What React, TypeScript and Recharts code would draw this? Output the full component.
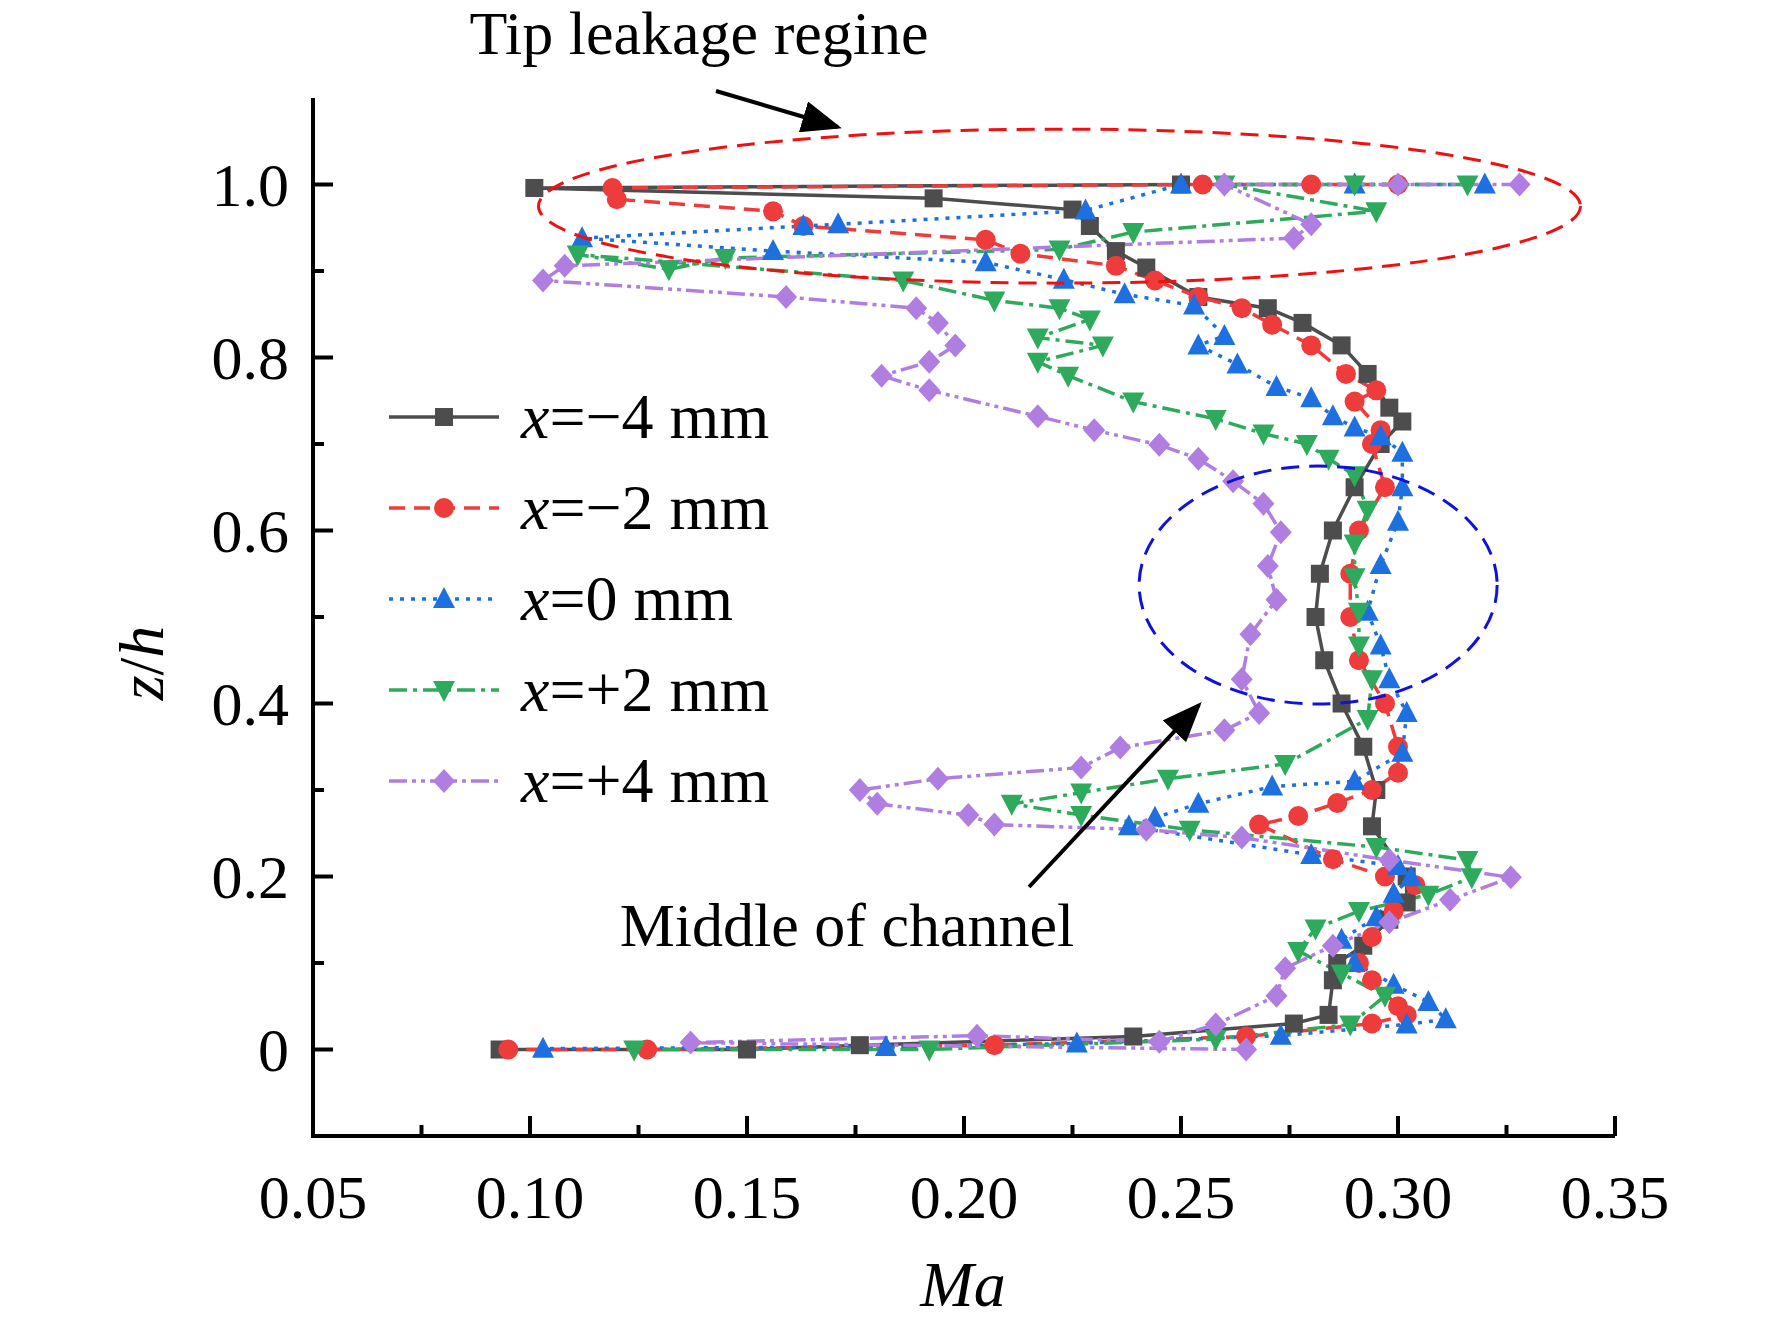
import React from 'react';
import { LineChart, Line, XAxis, YAxis } from 'recharts';

// Ma (x) and z/h (y), ordered along each profile
const maM4 = [0.25, 0.101, 0.193, 0.225, 0.229, 0.235, 0.242, 0.254, 0.27, 0.278, 0.287, 0.293, 0.298, 0.301, 0.296, 0.29, 0.285, 0.282, 0.281, 0.283, 0.287, 0.292, 0.295, 0.294, 0.302, 0.302, 0.298, 0.292, 0.286, 0.285, 0.284, 0.276, 0.239, 0.176, 0.15, 0.093];
const zM4 = [1.0, 0.996, 0.984, 0.971, 0.952, 0.923, 0.904, 0.87, 0.857, 0.84, 0.814, 0.781, 0.742, 0.726, 0.7, 0.65, 0.6, 0.55, 0.5, 0.45, 0.4, 0.35, 0.3, 0.258, 0.2, 0.17, 0.15, 0.12, 0.1, 0.08, 0.04, 0.03, 0.015, 0.005, 0.0, 0.0];

const maM2 = [0.3, 0.28, 0.255, 0.119, 0.12, 0.156, 0.163, 0.205, 0.213, 0.235, 0.244, 0.254, 0.264, 0.271, 0.28, 0.288, 0.295, 0.29, 0.296, 0.294, 0.297, 0.291, 0.289, 0.289, 0.291, 0.297, 0.3, 0.3, 0.294, 0.286, 0.277, 0.268, 0.285, 0.297, 0.304, 0.299, 0.294, 0.291, 0.294, 0.3, 0.302, 0.294, 0.265, 0.207, 0.127, 0.095];
const zM2 = [1.0, 1.0, 1.0, 0.996, 0.983, 0.969, 0.952, 0.936, 0.92, 0.906, 0.889, 0.87, 0.857, 0.838, 0.814, 0.781, 0.762, 0.749, 0.716, 0.7, 0.65, 0.6, 0.55, 0.5, 0.45, 0.4, 0.35, 0.32, 0.3, 0.285, 0.27, 0.26, 0.22, 0.2, 0.19, 0.16, 0.13, 0.1, 0.08, 0.05, 0.04, 0.03, 0.015, 0.005, 0.0, 0.0];

const maZ0 = [0.32, 0.29, 0.25, 0.228, 0.171, 0.163, 0.112, 0.156, 0.205, 0.223, 0.237, 0.253, 0.26, 0.254, 0.263, 0.272, 0.28, 0.285, 0.29, 0.296, 0.301, 0.301, 0.3, 0.296, 0.293, 0.296, 0.298, 0.302, 0.301, 0.29, 0.271, 0.254, 0.244, 0.238, 0.28, 0.3, 0.303, 0.299, 0.295, 0.287, 0.29, 0.299, 0.307, 0.311, 0.302, 0.273, 0.226, 0.182, 0.103];
const zZ0 = [1.0, 1.0, 1.0, 0.97, 0.954, 0.952, 0.938, 0.923, 0.91, 0.89, 0.873, 0.86, 0.825, 0.814, 0.792, 0.766, 0.753, 0.732, 0.719, 0.709, 0.69, 0.65, 0.61, 0.56, 0.506, 0.467, 0.428, 0.389, 0.343, 0.31, 0.304, 0.284, 0.268, 0.258, 0.225, 0.212, 0.199, 0.18, 0.153, 0.127, 0.1, 0.075, 0.055, 0.035, 0.029, 0.016, 0.007, 0.003, 0.001];

const maP2 = [0.316, 0.29, 0.26, 0.295, 0.239, 0.222, 0.145, 0.132, 0.111, 0.186, 0.207, 0.222, 0.229, 0.217, 0.232, 0.217, 0.224, 0.239, 0.258, 0.269, 0.279, 0.284, 0.29, 0.293, 0.29, 0.29, 0.291, 0.291, 0.294, 0.293, 0.274, 0.247, 0.227, 0.211, 0.227, 0.252, 0.295, 0.316, 0.317, 0.307, 0.291, 0.281, 0.277, 0.287, 0.297, 0.289, 0.258, 0.192, 0.124];
const zP2 = [1.0, 1.0, 1.0, 0.969, 0.945, 0.925, 0.915, 0.902, 0.919, 0.889, 0.866, 0.857, 0.844, 0.823, 0.814, 0.795, 0.779, 0.749, 0.729, 0.712, 0.7, 0.683, 0.664, 0.624, 0.585, 0.546, 0.506, 0.467, 0.428, 0.382, 0.33, 0.313, 0.297, 0.284, 0.271, 0.254, 0.234, 0.219, 0.199, 0.179, 0.16, 0.14, 0.114, 0.088, 0.062, 0.029, 0.012, 0.0, 0.0];

const maP4 = [0.328, 0.3, 0.26, 0.28, 0.276, 0.108, 0.103, 0.159, 0.189, 0.194, 0.198, 0.192, 0.181, 0.192, 0.217, 0.23, 0.245, 0.254, 0.262, 0.269, 0.273, 0.27, 0.272, 0.266, 0.264, 0.268, 0.26, 0.236, 0.227, 0.194, 0.176, 0.18, 0.201, 0.207, 0.242, 0.264, 0.298, 0.326, 0.312, 0.298, 0.285, 0.274, 0.272, 0.258, 0.245, 0.203, 0.137, 0.265];
const zP4 = [1.0, 1.0, 1.0, 0.954, 0.938, 0.906, 0.889, 0.87, 0.857, 0.84, 0.814, 0.795, 0.779, 0.762, 0.732, 0.716, 0.699, 0.683, 0.657, 0.631, 0.598, 0.559, 0.52, 0.48, 0.428, 0.389, 0.369, 0.349, 0.326, 0.313, 0.3, 0.284, 0.271, 0.26, 0.254, 0.245, 0.219, 0.199, 0.173, 0.147, 0.12, 0.094, 0.062, 0.029, 0.009, 0.016, 0.008, 0.0];

const xTicks = [0.05, 0.1, 0.15, 0.2, 0.25, 0.3, 0.35];
const xMinor = [0.075, 0.125, 0.175, 0.225, 0.275, 0.325];
const yTicks = [0, 0.2, 0.4, 0.6, 0.8, 1.0];
const yMinor = [0.1, 0.3, 0.5, 0.7, 0.9];

const W = 1772, H = 1321;
const L = 313, R = 1615, T = 98, B = 1136;
const X0 = 0.05, X1 = 0.35, Y0 = -0.1, Y1 = 1.1;
const px = (v: number) => L + ((v - X0) / (X1 - X0)) * (R - L);
const py = (v: number) => B - ((v - Y0) / (Y1 - Y0)) * (B - T);

const zip = (a: number[], b: number[]) => a.map((x, i) => ({ x, y: b[i] }));

const series = [
  { name: '\u22124', data: zip(maM4, zM4), color: '#4d4d4d', dash: undefined, shape: 'square' },
  { name: '\u22122', data: zip(maM2, zM2), color: '#ee3b3b', dash: '16 9', shape: 'circle' },
  { name: '0', data: zip(maZ0, zZ0), color: '#1e6fe0', dash: '4 7', shape: 'tri' },
  { name: '+2', data: zip(maP2, zP2), color: '#2eaa5c', dash: '18 6 4 6', shape: 'tridown' },
  { name: '+4', data: zip(maP4, zP4), color: '#b07ee0', dash: '18 5 4 5 4 5', shape: 'diamond' },
];

const Marker = ({ cx, cy, shape, color }: any) => {
  if (cx == null || cy == null) return null;
  const s = 9;
  if (shape === 'square') return <rect x={cx - s} y={cy - s} width={2 * s} height={2 * s} fill={color} />;
  if (shape === 'circle') return <circle cx={cx} cy={cy} r={s + 1} fill={color} />;
  if (shape === 'tri') return <polygon points={`${cx},${cy - s - 3} ${cx - s - 2},${cy + s} ${cx + s + 2},${cy + s}`} fill={color} />;
  if (shape === 'tridown') return <polygon points={`${cx},${cy + s + 3} ${cx - s - 2},${cy - s} ${cx + s + 2},${cy - s}`} fill={color} />;
  return <polygon points={`${cx},${cy - s - 3} ${cx + s + 2},${cy} ${cx},${cy + s + 3} ${cx - s - 2},${cy}`} fill={color} />;
};

const font = '"Liberation Serif", "Times New Roman", serif';

export default function App() {
  return (
    <div style={{ position: 'absolute', left: 0, top: 0, width: W, height: H, background: '#fff', fontFamily: font }}>
      <LineChart width={W} height={H} margin={{ left: L, right: W - R, top: T, bottom: H - B }}>
        <XAxis type="number" dataKey="x" domain={[X0, X1]} ticks={xTicks} allowDataOverflow hide />
        <YAxis type="number" dataKey="y" domain={[Y0, Y1]} ticks={yTicks} allowDataOverflow hide />
        {series.map((s) => (
          <Line key={s.name} data={s.data} dataKey="y" type="linear" stroke={s.color} strokeWidth={3.5}
            strokeDasharray={s.dash} isAnimationActive={false}
            dot={(p: any) => <Marker key={p.index} cx={p.cx} cy={p.cy} shape={s.shape} color={s.color} />} />
        ))}
      </LineChart>
      <svg width={W} height={H} style={{ position: 'absolute', left: 0, top: 0, pointerEvents: 'none' }}>
        <defs>
          <marker id="ah" markerWidth="10" markerHeight="8" refX="9" refY="4" orient="auto">
            <path d="M0,0 L10,4 L0,8 Z" fill="#000" />
          </marker>
        </defs>
        <path d={`M${L},${T} L${L},${B} L${R},${B}`} fill="none" stroke="#000" strokeWidth={4} />
        {xTicks.map((t) => <line key={t} x1={px(t)} x2={px(t)} y1={B} y2={B - 20} stroke="#000" strokeWidth={4} />)}
        {xMinor.map((t) => <line key={t} x1={px(t)} x2={px(t)} y1={B} y2={B - 11} stroke="#000" strokeWidth={4} />)}
        {yTicks.map((t) => <line key={t} x1={L} x2={L + 20} y1={py(t)} y2={py(t)} stroke="#000" strokeWidth={4} />)}
        {yMinor.map((t) => <line key={t} x1={L} x2={L + 11} y1={py(t)} y2={py(t)} stroke="#000" strokeWidth={4} />)}
        {xTicks.map((t) => (
          <text key={t} x={px(t)} y={B + 82} fontSize={62} textAnchor="middle" fontFamily={font}>{t.toFixed(2)}</text>
        ))}
        {yTicks.map((t) => (
          <text key={t} x={L - 24} y={py(t) + 21} fontSize={62} textAnchor="end" fontFamily={font}>{t === 0 ? '0' : t.toFixed(1)}</text>
        ))}
        <ellipse cx={px(0.222)} cy={py(0.975)} rx={521} ry={77} fill="none" stroke="#ee1111" strokeWidth={3} strokeDasharray="18 10" />
        <ellipse cx={px(0.2816)} cy={py(0.537)} rx={179} ry={119} fill="none" stroke="#1111dd" strokeWidth={3} strokeDasharray="18 10" />
        <line x1={716} y1={91} x2={838} y2={127} stroke="#000" strokeWidth={4} markerEnd="url(#ah)" />
        <line x1={1029} y1={887} x2={1199} y2={705} stroke="#000" strokeWidth={4} markerEnd="url(#ah)" />
        <text x={699} y={54} fontSize={62} textAnchor="middle" fontFamily={font}>Tip leakage regine</text>
        <text x={847} y={946} fontSize={62} textAnchor="middle" fontFamily={font}>Middle of channel</text>
        <text x={963} y={1306} fontSize={64} textAnchor="middle" fontStyle="italic" fontFamily={font}>Ma</text>
        <text x={0} y={0} fontSize={64} textAnchor="middle" fontFamily={font}
          transform="translate(163,663) rotate(-90)"><tspan fontStyle="italic">z</tspan>/<tspan fontStyle="italic">h</tspan></text>
        {series.map((s, i) => {
          const y = 417 + i * 91;
          return (
            <g key={s.name}>
              <line x1={389} x2={499} y1={y} y2={y} stroke={s.color} strokeWidth={3.5} strokeDasharray={s.dash} />
              <Marker cx={444} cy={y} shape={s.shape} color={s.color} />
              <text x={521} y={y + 21} fontSize={64} fontFamily={font}>
                <tspan fontStyle="italic">x</tspan>={s.name} mm
              </text>
            </g>
          );
        })}
      </svg>
    </div>
  );
}
